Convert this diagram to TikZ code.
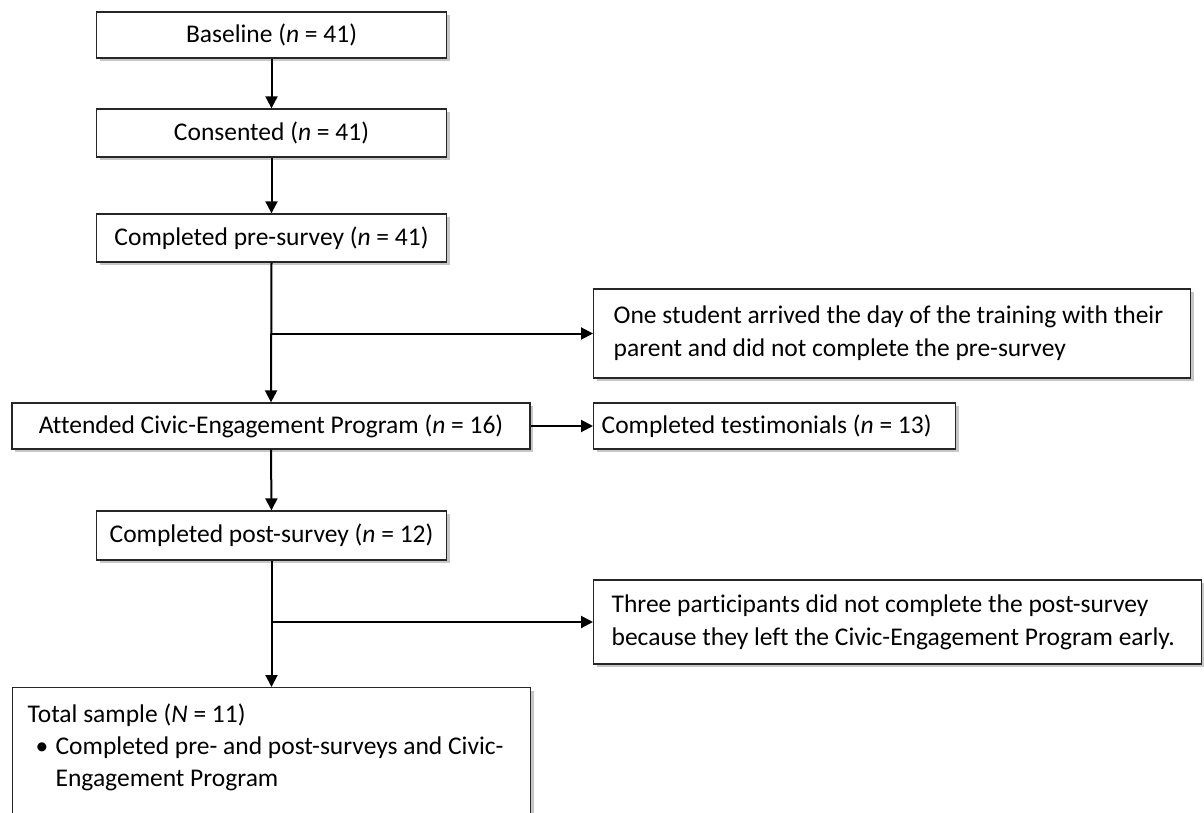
\documentclass[tikz,border=0pt]{standalone}
\usepackage{fontspec}
\setmainfont{Carlito}[Ligatures=NoCommon]
\usetikzlibrary{arrows.meta, positioning, shadows}
% one unbroken line of side text, with the font's own word spaces
\newcommand{\sideline}[1]{\mbox{\spaceskip 0pt\relax #1}}
\tikzset{
    % Main flow boxes - centred text
    stage box/.style={rectangle, draw=black!85, line width=1.3pt, fill=white,
        inner sep=0pt, align=center,
        drop shadow={shadow xshift=3pt, shadow yshift=-3pt, fill=black, opacity=0.22}},
    % Side boxes - left aligned text
    side box/.style={stage box, align=left, anchor=west}, 
    % Flow arrows - thick with solid triangle heads
    flow arrow/.style={line width=2pt, -{Triangle[length=12pt, width=12pt]}}
}

\begin{document}
\begin{tikzpicture}[x=1pt, y=-1pt, font=\fontsize{25.5}{33}\selectfont]
    \useasboundingbox (0,0) rectangle (1204,813);

    % --- Main column ---
    \node[stage box, minimum width=350pt, minimum height=46pt] (base) at (271.5,35) {Baseline (\textit{n} = 41)};
    \node[stage box, minimum width=350pt, minimum height=48pt] (consent) at (271.5,133) {Consented (\textit{n} = 41)};
    \node[stage box, minimum width=350pt, minimum height=48pt] (pre) at (271.5,238) {Completed pre-survey (\textit{n} = 41)};
    \node[stage box, minimum width=518pt, minimum height=46pt] (attend) at (271,426) {Attended Civic-Engagement Program (\textit{n} = 16)};
    \node[stage box, minimum width=350pt, minimum height=49pt] (post) at (271.5,535.5) {Completed post-survey (\textit{n} = 12)};
    \node[stage box, anchor=north west, inner xsep=15pt, inner ysep=16pt,
        font=\fontsize{25.5}{32}\selectfont] (total) at (12,687)
        {\parbox[t][150pt][t]{488pt}{Total sample (\textit{N} = 11)\\
        \hspace*{8pt}\makebox[20pt][l]{\textbullet}\sideline{Completed pre- and post-surveys and Civic-}\\
        \hspace*{28pt}Engagement Program}};

    % --- Side boxes ---
    \node[side box, text width=557pt, inner xsep=20pt, minimum height=89pt] (student) at (593,333.5)
        {\sideline{One student arrived the day of the training with their}\\
         \sideline{parent and did not complete the pre-survey}};
    \node[side box, text width=346pt, inner xsep=8pt, minimum height=46pt] (testimonial) at (593,426)
        {\sideline{Completed testimonials (\textit{n} = 13)}};
    \node[side box, text width=572pt, inner xsep=18pt, minimum height=84pt] (leftearly) at (593,622)
        {\sideline{Three participants did not complete the post-survey}\\
         \sideline{because they left the Civic-Engagement Program early.}};

    % --- Connectors ---
    \coordinate (split1) at (pre.south |- student.west);
    \coordinate (split2) at (post.south |- leftearly.west);
    \draw[flow arrow] (base) -- (consent);
    \draw[flow arrow] (consent) -- (pre);
    \draw[flow arrow] (pre.south) -- (attend.north);
    \draw[flow arrow] (split1) -- (student.west);
    \draw[flow arrow] (attend.east) -- (testimonial.west);
    \draw[flow arrow] (attend.south) -- (post.north);
    \draw[flow arrow] (post.south) -- (total.north -| post.south);
    \draw[flow arrow] (split2) -- (leftearly.west);

\end{tikzpicture}
\end{document}
